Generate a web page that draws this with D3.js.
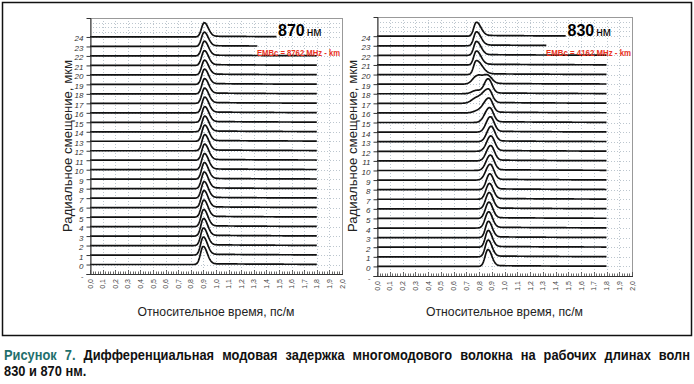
<!DOCTYPE html>
<html><head><meta charset="utf-8">
<script src="https://cdn.jsdelivr.net/npm/d3@7"></script>
<style>body{margin:0;background:#fff}svg{display:block}</style>
</head><body><svg id="c" width="694" height="384"></svg>
<script>
// ---------- data ----------
const offsets = [0,1,2,3,4,5,6,7,8,9,10,11,12,13,14,15,16,17,18,19,20,21,22,23,24];
const yTickValues = [-1,0,1,2,3,4,5,6,7,8,9,10,11,12,13,14,15,16,17,18,19,20,21,22,23,24];
const yTickLabels = ["-","0","1","2","3","4","5","6","7","8","9","10","11","12","13","14","15","16","17","18","19","20","21","22","23","24"];
const yGridValues = [-1,0,1,2,3,4,5,6,7,8,9,10,11,12,13,14,15,16,17,18,19,20,21,22,23,24,24.5,25,25.5];
const xTickValues = [0,0.1,0.2,0.3,0.4,0.5,0.6,0.7,0.8,0.9,1.0,1.1,1.2,1.3,1.4,1.5,1.6,1.7,1.8,1.9,2.0];
const xTickLabels = ["0,0","0,1","0,2","0,3","0,4","0,5","0,6","0,7","0,8","0,9","1,0","1,1","1,2","1,3","1,4","1,5","1,6","1,7","1,8","1,9","2,0"];

// 870 nm panel: pulse peak time (ps/m), peak height (мкм units), rise/fall widths, trace end
const center870  = [0.898,0.899,0.900,0.901,0.902,0.903,0.904,0.905,0.906,0.907,0.908,0.909,0.910,0.910,0.910,0.910,0.910,0.909,0.909,0.908,0.908,0.907,0.907,0.906,0.906];
const height870  = [1.9,1.9,1.85,1.85,1.8,1.8,1.8,1.75,1.75,1.75,1.7,1.7,1.7,1.7,1.65,1.65,1.65,1.6,1.6,1.6,1.55,1.55,1.55,1.5,1.5];
const riseW870   = [0.021,0.021,0.021,0.021,0.021,0.021,0.021,0.021,0.021,0.021,0.021,0.021,0.021,0.021,0.021,0.021,0.021,0.021,0.021,0.021,0.021,0.021,0.021,0.021,0.021];
const fallW870   = [0.032,0.032,0.032,0.032,0.032,0.032,0.032,0.032,0.032,0.032,0.032,0.032,0.032,0.032,0.032,0.032,0.032,0.032,0.032,0.032,0.032,0.032,0.032,0.032,0.032];
const shoulderT870 = [0,0,0,0,0,0,0,0,0,0,0,0,0,0,0,0,0,0,0,0,0,0,0,0,0];
const shoulderH870 = [0,0,0,0,0,0,0,0,0,0,0,0,0,0,0,0,0,0,0,0,0,0,0,0,0];
const end870     = [1.8,1.8,1.8,1.8,1.8,1.8,1.8,1.8,1.8,1.8,1.8,1.8,1.8,1.8,1.8,1.8,1.8,1.8,1.8,1.8,1.8,1.8,1.8,1.33,1.48];

// 830 nm panel
const center830  = [0.870,0.871,0.872,0.873,0.875,0.877,0.879,0.881,0.884,0.886,0.888,0.890,0.892,0.894,0.888,0.882,0.877,0.872,0.871,0.785,0.778,0.779,0.779,0.779,0.779];
const height830  = [1.75,1.75,1.75,1.7,1.7,1.7,1.7,1.65,1.65,1.65,1.6,1.6,1.6,1.6,1.6,1.55,1.55,1.5,1.55,0.85,1.45,1.45,1.45,1.45,1.45];
const riseW830   = [0.022,0.022,0.022,0.022,0.026,0.026,0.026,0.026,0.026,0.032,0.032,0.032,0.032,0.032,0.032,0.036,0.04,0.05,0.03,0.035,0.02,0.02,0.02,0.02,0.02];
const fallW830   = [0.03,0.03,0.03,0.03,0.03,0.03,0.03,0.03,0.03,0.03,0.03,0.03,0.03,0.03,0.03,0.03,0.03,0.03,0.03,0.035,0.045,0.035,0.035,0.035,0.035];
const shoulderT830 = [0,0,0,0,0,0,0,0,0,0,0,0,0,0,0,0,0.79,0.77,0.78,0.865,0,0,0,0,0];
const shoulderH830 = [0,0,0,0,0,0,0,0,0,0,0,0,0,0,0,0,0.2,0.4,0.35,0.85,0,0,0,0,0];
const end830     = [1.8,1.8,1.8,1.8,1.8,1.8,1.8,1.8,1.8,1.8,1.8,1.8,1.8,1.8,1.8,1.8,1.8,1.8,1.8,1.8,1.8,1.8,1.8,1.33,1.48];

const tailAmp = 0.09;

const captionLine1 = ["Рисунок","7.","Дифференциальная","модовая","задержка","многомодового","волокна","на","рабочих","длинах","волн"];
const captionLine2 = "830 и 870 нм.";

// ---------- drawing ----------
const svg = d3.select("#c");
svg.append("rect").attr("width",694).attr("height",384).attr("fill","#fff");
svg.append("rect").attr("x",2.5).attr("y",2.5).attr("width",689).attr("height",333)
  .attr("fill","none").attr("stroke","#111").attr("stroke-width",1.5);

const panels = [
  {x0:90,x1:342,yTop:18,yBot:274,c:center870,h:height870,rw:riseW870,fw:fallW870,st:shoulderT870,sh:shoulderH870,end:end870,
   wl:"870",emb:"EMBc = 8762 MHz - km",titleX:72,embX:257,embW:83,wlX:278},
  {x0:377,x1:632,yTop:17,yBot:276,c:center830,h:height830,rw:riseW830,fw:fallW830,st:shoulderT830,sh:shoulderH830,end:end830,
   wl:"830",emb:"EMBc = 4162 MHz - km",titleX:357,embX:546,embW:85,wlX:567.5}
];

function gauss(t,c,h,sL,sR){const d=t-c;const s=d<0?sL:sR;return h*Math.exp(-d*d/(2*s*s));}

panels.forEach(p=>{
  const x = d3.scaleLinear().domain([0,2]).range([p.x0,p.x1]);
  const y = d3.scaleLinear().domain([-1,26]).range([p.yBot,p.yTop]);
  const g = svg.append("g");

  // grid
  const grid = g.append("g").attr("stroke","#bcc6ce").attr("stroke-width",1).attr("stroke-dasharray","1,2");
  xTickValues.filter(v=>v>0&&v<2).forEach(v=>{
    grid.append("line").attr("x1",Math.round(x(v))+0.5).attr("x2",Math.round(x(v))+0.5).attr("y1",p.yTop).attr("y2",p.yBot);
  });
  yGridValues.forEach(v=>{
    grid.append("line").attr("x1",p.x0).attr("x2",p.x1).attr("y1",Math.round(y(v))+0.5).attr("y2",Math.round(y(v))+0.5);
  });
  // frame
  g.append("rect").attr("x",p.x0+0.5).attr("y",p.yTop+0.5).attr("width",p.x1-p.x0).attr("height",p.yBot-p.yTop)
    .attr("fill","none").attr("stroke","#999").attr("stroke-width",1);

  // traces
  const line = d3.line().x(d=>x(d[0])).y(d=>y(d[1]));
  offsets.forEach((o,i)=>{
    const pts=[];
    for(let t=0;t<=p.end[i]+1e-9;t+=0.004){
      let v=gauss(t,p.c[i],p.h[i],p.rw[i],p.fw[i]);
      if(p.sh[i]>0) v+=gauss(t,p.st[i],p.sh[i],0.035,0.035);
      const d=t-p.c[i];
      if(d>0) v+=tailAmp*(1-Math.exp(-d/0.03))*Math.exp(-d/0.6);
      pts.push([t,o+v]);
    }
    g.append("path").attr("d",line(pts)).attr("fill","none").attr("stroke","#111")
      .attr("stroke-width",1.7).attr("stroke-linejoin","round");
  });

  // y axis
  const ya = g.append("g").attr("transform",`translate(${p.x0+0.5},0)`)
    .call(d3.axisLeft(y).tickValues(yTickValues).tickSize(4).tickPadding(3)
      .tickFormat((d,i)=>yTickLabels[i]));
  ya.select(".domain").attr("stroke","#333");
  ya.selectAll(".tick line").attr("stroke","#333");
  ya.selectAll(".tick text").attr("font-family","Liberation Sans, Arial, sans-serif")
    .attr("font-size",8).attr("font-style","italic").attr("fill","#333").attr("dy","0.5em");

  // x axis (minor ticks pointing inward)
  const xa = g.append("g");
  xa.append("line").attr("x1",p.x0).attr("x2",p.x1+1).attr("y1",p.yBot+0.5).attr("y2",p.yBot+0.5).attr("stroke","#333");
  d3.range(0,101,1).map(k=>k*0.02).forEach((v,k)=>{
    const xx=Math.round(x(v))+0.5;
    xa.append("line").attr("x1",xx).attr("x2",xx).attr("y1",p.yBot).attr("y2",p.yBot-(k%5===0?4:2.5))
      .attr("stroke","#444").attr("stroke-width",0.8);
  });
  xTickValues.forEach((v,i)=>{
    xa.append("text").attr("transform",`translate(${x(v)+2.5},${p.yBot+5}) rotate(-90)`)
      .attr("text-anchor","end").attr("font-family","Liberation Sans, Arial, sans-serif")
      .attr("font-size",7).attr("fill","#444").text(xTickLabels[i]);
  });

  // axis titles
  g.append("text").attr("x",(p.x0+p.x1)/2).attr("y",316).attr("text-anchor","middle")
    .attr("font-family","Liberation Sans, Arial, sans-serif").attr("font-size",13.5).attr("fill","#222")
    .attr("textLength",157).attr("lengthAdjust","spacingAndGlyphs").text("Относительное время, пс/м");
  g.append("text").attr("transform",`translate(${p.titleX},146) rotate(-90)`).attr("text-anchor","middle")
    .attr("font-family","Liberation Sans, Arial, sans-serif").attr("font-size",13.5).attr("fill","#222")
    .attr("textLength",172).attr("lengthAdjust","spacingAndGlyphs").text("Радиальное смещение, мкм");

  // wavelength label
  const wt = g.append("text").attr("x",p.wlX).attr("y",36).attr("font-family","Liberation Sans, Arial, sans-serif").attr("fill","#000");
  wt.append("tspan").attr("font-size",16).attr("font-weight","bold").text(p.wl);
  wt.append("tspan").attr("font-size",12).attr("dx",2).text("нм");
  // EMBc label
  g.append("text").attr("x",p.embX).attr("y",56).attr("font-family","Liberation Sans, Arial, sans-serif")
    .attr("font-size",9.5).attr("font-weight","bold").attr("fill","#e8321e")
    .attr("textLength",p.embW).attr("lengthAdjust","spacingAndGlyphs").text(p.emb);
});

// caption: justified line 1 with ~8px word gaps, each word horizontally condensed by a transform
const capFont = "Liberation Sans, Arial, sans-serif";
const capSize = 14.5;
const wordGap = 8;
function capText(parent,txt){
  return parent.append("text").attr("font-family",capFont).attr("font-size",capSize).attr("font-weight","bold").text(txt);
}
const cap1 = svg.append("g");
const nodes = captionLine1.map((w,i)=>capText(cap1,w).attr("fill",i<2?"#1f6f6c":"#111"));
const natural = nodes.map(n=>n.node().getComputedTextLength());
const sx = (686 - wordGap*(captionLine1.length-1))/d3.sum(natural);
let cx=4;
nodes.forEach((n,i)=>{
  n.attr("transform",`translate(${cx},360) scale(${sx},1)`);
  cx += natural[i]*sx + wordGap;
});
capText(svg,captionLine2).attr("fill","#111").attr("transform",`translate(4,376) scale(${sx},1)`);
</script></body></html>
